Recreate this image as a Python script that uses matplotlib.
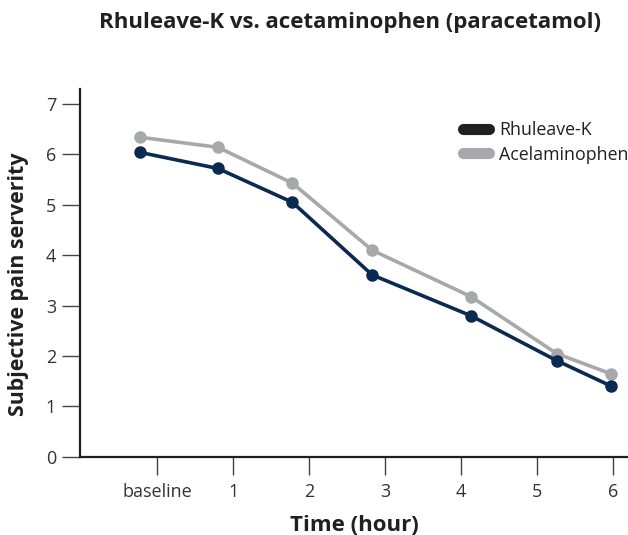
import matplotlib.pyplot as plt
from matplotlib.lines import Line2D

plt.rcParams["font.family"] = ["Open Sans", "DejaVu Sans"]

# data
tick_labels = ["baseline", "1", "2", "3", "4", "5", "6"]
point_pos = [-0.23, 0.80, 1.78, 2.83, 4.13, 5.26, 5.97]
rhuleave = [6.04, 5.72, 5.05, 3.61, 2.80, 1.91, 1.41]
acetaminophen = [6.34, 6.14, 5.43, 4.10, 3.18, 2.05, 1.65]

navy = "#0b2a52"
grey = "#a7a8ab"

fig = plt.figure(figsize=(6.28, 5.35), dpi=100)
ax = fig.add_axes([0.127, 0.146, 0.873, 0.688])

ax.plot(point_pos, acetaminophen, color=grey, lw=2.6, marker="o",
        markersize=8, zorder=2)
ax.plot(point_pos, rhuleave, color=navy, lw=2.6, marker="o",
        markersize=8, zorder=3)

ax.set_xlim(-1.02, 6.2)
ax.set_ylim(0, 7.3)
ax.set_xticks(range(len(tick_labels)))
ax.set_xticklabels(tick_labels)
ax.set_yticks(range(8))

for side in ["top", "right"]:
    ax.spines[side].set_visible(False)
for side in ["left", "bottom"]:
    ax.spines[side].set_linewidth(1.6)
    ax.spines[side].set_color("#231f20")

ax.tick_params(axis="both", length=13, width=1.0, color="#444444",
               labelsize=13, labelcolor="#333333")
ax.tick_params(axis="x", pad=6)
ax.tick_params(axis="y", pad=4)

ax.set_xlabel("Time (hour)", fontsize=16, fontweight="bold",
              color="#231f20", labelpad=10)
ax.set_ylabel("Subjective pain serverity", fontsize=15.4, fontweight="bold",
              color="#231f20")
ax.yaxis.set_label_coords(-0.093, 0.47)

fig.suptitle("Rhuleave-K vs. acetaminophen (paracetamol)", x=0.557, y=0.978,
             fontsize=16, fontweight="bold", color="#231f20")

handles = [
    Line2D([0], [0], color="#231f20", lw=8, solid_capstyle="round"),
    Line2D([0], [0], color=grey, lw=8, solid_capstyle="round"),
]
ax.legend(handles, ["Rhuleave-K", "Acelaminophen"], loc="upper right",
          bbox_to_anchor=(1.03, 0.955), frameon=False, fontsize=12.8,
          handlelength=1.45, handletextpad=0.55, labelspacing=0.35,
          labelcolor="#231f20")

fig.savefig("out.png", dpi=100)
